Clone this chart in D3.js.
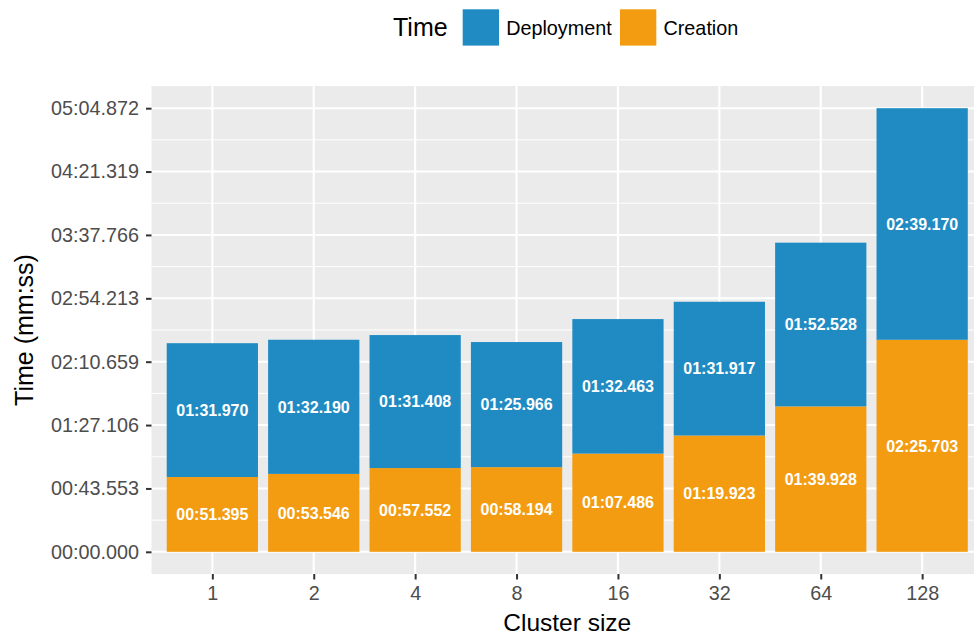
<!DOCTYPE html>
<html>
<head>
<meta charset="utf-8">
<script src="https://cdn.jsdelivr.net/npm/d3@7/dist/d3.min.js"></script>
<style>
  html, body { margin: 0; padding: 0; background: #fff; }
  svg { display: block; font-family: "Liberation Sans", Arial, Helvetica, sans-serif; }
</style>
</head>
<body>
<svg id="chart" width="974" height="635"></svg>
<script>
// Cluster sizes and the two stacked timing phases, in seconds
const clusterSizes = ["1", "2", "4", "8", "16", "32", "64", "128"];
const creationSec   = [51.395, 53.546, 57.552, 58.194, 67.486, 79.923, 99.928, 145.703];
const deploymentSec = [91.970, 92.190, 91.408, 85.966, 92.463, 91.917, 112.528, 159.170];
const seriesNames = ["Deployment", "Creation"];
const seriesColors = ["#208bc3", "#f39c12"];
// Y breaks, in seconds (eight even steps up to the tallest stack)
const yTicks = [0, 43.553, 87.106, 130.659, 174.213, 217.766, 261.319, 304.872];

const W = 974, H = 635;
const panel = { left: 151.5, right: 983, top: 86, bottom: 574 };

const svg = d3.select("#chart");

// mm:ss.sss formatting
function fmt(sec) {
  const m = Math.floor(sec / 60 + 1e-9);
  const s = sec - m * 60;
  const mm = String(m).padStart(2, "0");
  const ss = s.toFixed(3).padStart(6, "0");
  return mm + ":" + ss;
}

const rows = clusterSizes.map((c, i) => ({
  size: c,
  Creation: creationSec[i],
  Deployment: deploymentSec[i]
}));

const maxTotal = d3.max(rows, r => r.Creation + r.Deployment);
const yMinor = d3.pairs(yTicks).map(([a, b]) => (a + b) / 2);

const pad = maxTotal * 0.05;
const y = d3.scaleLinear().domain([-pad, maxTotal + pad]).range([panel.bottom, panel.top]);
const x = d3.scalePoint().domain(clusterSizes).range([panel.left, panel.right]).padding(0.6);
const barW = x.step() * 0.9;

// Panel background
svg.append("rect")
  .attr("x", panel.left).attr("y", panel.top)
  .attr("width", panel.right - panel.left).attr("height", panel.bottom - panel.top)
  .attr("fill", "#ebebeb");

// Grid lines
const grid = svg.append("g");
grid.selectAll(".minor").data(yMinor).join("line")
  .attr("x1", panel.left).attr("x2", panel.right)
  .attr("y1", d => y(d)).attr("y2", d => y(d))
  .attr("stroke", "#fff").attr("stroke-width", 1);
grid.selectAll(".majory").data(yTicks).join("line")
  .attr("x1", panel.left).attr("x2", panel.right)
  .attr("y1", d => y(d)).attr("y2", d => y(d))
  .attr("stroke", "#fff").attr("stroke-width", 2.1);
grid.selectAll(".majorx").data(clusterSizes).join("line")
  .attr("x1", d => x(d)).attr("x2", d => x(d))
  .attr("y1", panel.top).attr("y2", panel.bottom)
  .attr("stroke", "#fff").attr("stroke-width", 2.1);

// Stacked bars: Creation at the bottom, Deployment on top
const stack = d3.stack().keys(["Creation", "Deployment"]);
const layers = stack(rows);
const colorOf = k => seriesColors[seriesNames.indexOf(k)];

const barG = svg.append("g");
layers.forEach(layer => {
  barG.append("g").selectAll("rect").data(layer).join("rect")
    .attr("x", d => x(d.data.size) - barW / 2)
    .attr("width", barW)
    .attr("y", d => y(d[1]))
    .attr("height", d => y(d[0]) - y(d[1]))
    .attr("fill", colorOf(layer.key));
});

// Value labels centred in each segment
const labG = svg.append("g");
layers.forEach(layer => {
  labG.append("g").selectAll("text").data(layer).join("text")
    .attr("x", d => x(d.data.size))
    .attr("y", d => y((d[0] + d[1]) / 2))
    .attr("dy", "0.36em")
    .attr("text-anchor", "middle")
    .attr("fill", "#fff")
    .attr("font-weight", "bold")
    .attr("font-size", 16)
    .text(d => fmt(d.data[layer.key]));
});

// Y axis
const yAxis = d3.axisLeft(y).tickValues(yTicks).tickFormat(fmt).tickSize(5.5).tickPadding(7);
const yg = svg.append("g").attr("transform", `translate(${panel.left},0)`).call(yAxis);
yg.select(".domain").remove();
yg.selectAll(".tick line").attr("stroke", "#333").attr("stroke-width", 2);
yg.selectAll(".tick text").attr("fill", "#4d4d4d").attr("font-size", 19.8)
  .attr("font-family", "Liberation Sans, Arial, sans-serif");

// X axis
const xAxis = d3.axisBottom(x).tickSize(5.5).tickPadding(6);
const xg = svg.append("g").attr("transform", `translate(0,${panel.bottom})`).call(xAxis);
xg.select(".domain").remove();
xg.selectAll(".tick line").attr("stroke", "#333").attr("stroke-width", 2);
xg.selectAll(".tick text").attr("fill", "#4d4d4d").attr("font-size", 19.8)
  .attr("font-family", "Liberation Sans, Arial, sans-serif");

// Axis titles
svg.append("text")
  .attr("x", (panel.left + panel.right) / 2).attr("y", 631)
  .attr("text-anchor", "middle").attr("font-size", 24.5).attr("fill", "#000")
  .text("Cluster size");
svg.append("text")
  .attr("transform", `translate(33,${(panel.top + panel.bottom) / 2}) rotate(-90)`)
  .attr("text-anchor", "middle").attr("font-size", 25).attr("fill", "#000")
  .text("Time (mm:ss)");

// Legend
const leg = svg.append("g");
leg.append("text").attr("x", 393).attr("y", 35.5).attr("font-size", 25).attr("fill", "#000").text("Time");
const keyX = [462.7, 620];
seriesNames.forEach((name, i) => {
  leg.append("rect").attr("x", keyX[i]).attr("y", 9.3).attr("width", 36.3).attr("height", 36.3)
    .attr("fill", seriesColors[i]);
  leg.append("text").attr("x", keyX[i] + 43.5).attr("y", 35).attr("font-size", 19.8)
    .attr("fill", "#000").text(name);
});
</script>
</body>
</html>
